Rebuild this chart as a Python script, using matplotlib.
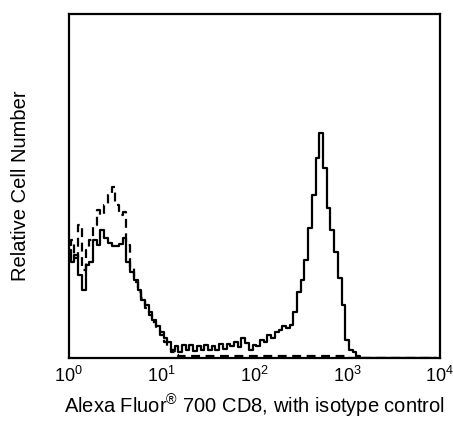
import matplotlib
matplotlib.use('Agg')
import matplotlib.pyplot as plt
import numpy as np

plt.rcParams['font.family'] = ['Liberation Sans', 'DejaVu Sans']
plt.rcParams['mathtext.fontset'] = 'custom'
plt.rcParams['mathtext.rm'] = 'Liberation Sans'
plt.rcParams['mathtext.it'] = 'Liberation Sans'

# channel positions (log10 of fluorescence), one every 0.04 decade
log_channels = np.arange(100) * 0.04

# CD8 stained sample (solid)
cd8_counts = [108, 96, 103, 83, 68, 93, 96, 118, 113, 128,
              120, 115, 112, 112, 114, 120, 96, 86, 78, 68,
              58, 53, 46, 38, 32, 26, 20, 16, 8, 12,
              6, 13, 8, 13, 7, 12, 8, 13, 8, 12,
              8, 14, 9, 14, 12, 16, 11, 20, 15, 8,
              13, 12, 18, 16, 23, 20, 26, 28, 32, 30,
              33, 46, 66, 78, 98, 130, 163, 200, 225, 190,
              150, 128, 106, 80, 53, 18, 8, 6, 2, 0,
              0, 0, 0, 0, 0, 0, 0, 0, 0, 0,
              0, 0, 0, 0, 0, 0, 0, 0, 0, 0]

# isotype control (dashed)
iso_counts = [113, 118, 100, 133, 88, 108, 118, 133, 148, 143,
              153, 163, 171, 153, 143, 146, 113, 90, 76, 66,
              60, 50, 43, 36, 28, 23, 16, 10, 6, 3,
              2, 2, 2, 2, 2, 2, 2, 2, 2, 2,
              2, 2, 2, 2, 2, 2, 2, 2, 2, 2,
              2, 2, 2, 2, 2, 2, 2, 2, 2, 2,
              2, 2, 2, 2, 2, 2, 2, 2, 2, 2,
              2, 2, 2, 2, 2, 0, 0, 0, 0, 0,
              0, 0, 0, 0, 0, 0, 0, 0, 0, 0,
              0, 0, 0, 0, 0, 0, 0, 0, 0, 0]

x = 10 ** log_channels

fig = plt.figure(figsize=(4.53, 4.23), dpi=100)
ax = fig.add_axes([0.152, 0.154, 0.819, 0.813])

ax.plot(x, iso_counts, color='black', lw=1.6, ls=(0, (4, 2.5)), drawstyle='steps-mid')
ax.plot(x, cd8_counts, color='black', lw=1.6, drawstyle='steps-mid')

ax.set_xscale('log')
ax.set_xlim(1, 10000)
ax.set_ylim(0, 344)
ax.set_xticks([1, 10, 100, 1000, 10000])
ax.set_xticklabels(['$10^{0}$', '$10^{1}$', '$10^{2}$', '$10^{3}$', '$10^{4}$'])
ax.minorticks_off()
ax.set_yticks([])
ax.tick_params(axis='x', length=0, pad=6, labelsize=13)
for s in ax.spines.values():
    s.set_linewidth(1.6)

ax.set_ylabel('Relative Cell Number', fontsize=14.5, labelpad=28)
ax.set_xlabel('Alexa Fluor$^{\u00ae}$ 700 CD8, with isotype control', fontsize=14.5, labelpad=5)

fig.savefig('out.png', dpi=100)
